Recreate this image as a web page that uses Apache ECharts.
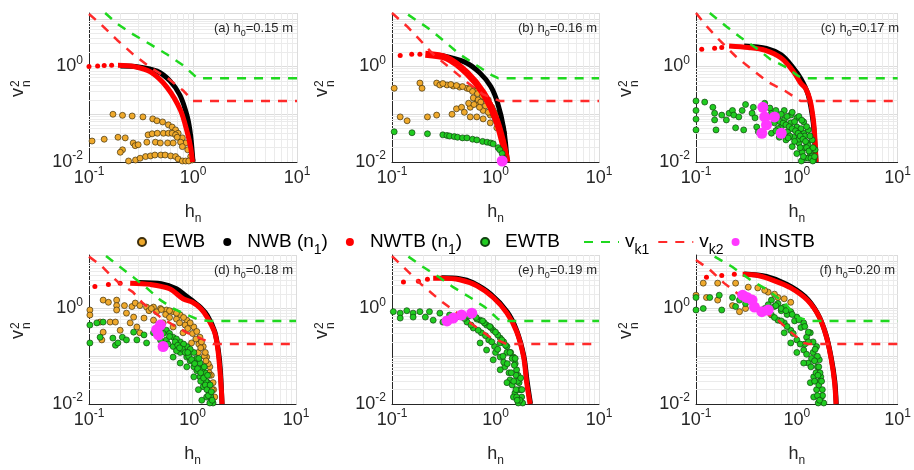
<!DOCTYPE html>
<html>
<head>
<meta charset="utf-8">
<script src="https://cdn.jsdelivr.net/npm/echarts@6/dist/echarts.min.js"></script>
<style>
  html, body { margin: 0; padding: 0; background: #fff; }
  #chart { width: 914px; height: 470px; }
</style>
</head>
<body>
<div id="chart"></div>
<script>
// panel captions
const panelTags = ['(a)', '(b)', '(c)', '(d)', '(e)', '(f)'];
const h0Values = ['0.15', '0.16', '0.17', '0.18', '0.19', '0.20'];

// ticks with labels, minor grid values
const xLabelTicks = [0.1, 1, 10];
const yLabelTicks = [0.01, 1];
const xMinorGrid = [0.2, 0.3, 0.4, 0.5, 0.6, 0.7, 0.8, 0.9, 2, 3, 4, 5, 6, 7, 8, 9];
const yMinorGrid = [0.02, 0.03, 0.04, 0.05, 0.06, 0.07, 0.08, 0.09, 0.2, 0.3, 0.4, 0.5, 0.6, 0.7, 0.8, 0.9, 2, 3, 4, 5, 6, 7, 8, 9];

// (a) h0 = 0.15 m
const ewbA = [[0.17,0.1],[0.21,0.095],[0.26,0.092],[0.33,0.088],[0.41,0.08],[0.45,0.073],[0.51,0.069],[0.58,0.06],[0.63,0.054],[0.68,0.047],[0.72,0.04],[0.79,0.032],[0.85,0.025],[0.89,0.018],[0.95,0.013],[0.98,0.011],
  [0.107,0.0275],[0.14,0.03],[0.19,0.033],[0.223,0.032],[0.266,0.025],[0.278,0.022],[0.297,0.023],[0.37,0.037],[0.405,0.039],[0.454,0.04],[0.52,0.04],[0.58,0.04],[0.63,0.04],[0.68,0.037],[0.705,0.033],[0.76,0.026],[0.79,0.021],[0.435,0.026],[0.36,0.026],[0.485,0.025],[0.57,0.025],[0.645,0.025],[0.21,0.018],[0.2,0.016],
  [0.24,0.0105],[0.28,0.011],[0.31,0.012],[0.35,0.013],[0.39,0.0134],[0.43,0.014],[0.49,0.014],[0.54,0.014],[0.61,0.0134],[0.68,0.013],[0.72,0.0116],[0.79,0.0105],[0.85,0.0105],[0.91,0.0105]];
const nwbA = [[0.2,1.02],[0.3,0.98],[0.45,0.8],[0.6,0.5],[0.75,0.25],[0.88,0.09],[0.95,0.035],[1.0,0.01]];
const nwtbDotsA = [[0.1,1.0],[0.121,1.03],[0.14,1.05],[0.165,1.06]];
const nwtbA = [[0.19,1.06],[0.27,1.0],[0.39,0.77],[0.56,0.37],[0.76,0.12],[0.885,0.04],[0.95,0.02],[0.99,0.01]];
const vk1A = [[0.143,13.2],[0.186,7.9],[0.266,4.7],[0.39,2.9],[0.57,1.76],[0.81,1.05],[1.1,0.57],[10,0.57]];
const vk2A = [[0.1,12.6],[0.128,7.9],[0.186,3.6],[0.266,1.8],[0.39,0.95],[0.57,0.57],[0.81,0.31],[1.0,0.19],[10,0.19]];

// (b) h0 = 0.16 m
const ewbB = [[0.105,0.35],[0.186,0.45],[0.195,0.35],[0.27,0.45],[0.29,0.41],[0.34,0.41],[0.39,0.39],[0.45,0.37],[0.53,0.35],[0.61,0.32],[0.71,0.28],[0.79,0.23],[0.85,0.2],[0.92,0.14],[0.99,0.105],[1.06,0.076],[1.16,0.054],[1.2,0.04],
  [0.31,0.44],[0.37,0.42],[0.42,0.4],[0.48,0.38],[0.56,0.34],[0.65,0.3],
  [0.61,0.22],[0.66,0.17],[0.57,0.14],[0.76,0.12],[0.89,0.096],[1.03,0.069],[0.68,0.2],[0.72,0.18],[0.8,0.15],[0.95,0.1],[1.1,0.06],
  [0.6,0.3],[0.67,0.27],[0.75,0.24],[0.82,0.2],[0.88,0.16],[0.95,0.12],[1.02,0.09],[1.1,0.065],[1.14,0.045],[1.18,0.03],[0.55,0.17],[0.62,0.16],[0.7,0.14],[0.85,0.11],[1.0,0.08],[1.12,0.05],
  [0.12,0.088],[0.14,0.073],[0.22,0.088],[0.27,0.096],[0.38,0.1],[0.42,0.13],[0.47,0.14],[0.5,0.11],[0.57,0.088],[0.66,0.088],[0.76,0.08],[0.89,0.066],[1.03,0.052],[1.16,0.037],[1.2,0.026]];
const nwbB = [[0.3,1.7],[0.5,1.25],[0.7,0.75],[0.9,0.38],[1.05,0.17],[1.2,0.05],[1.3,0.01]];
const nwtbDotsB = [[0.12,1.7],[0.155,1.8],[0.186,1.8]];
const nwtbB = [[0.21,1.8],[0.34,1.5],[0.53,0.73],[0.76,0.28],[1.02,0.076],[1.18,0.025],[1.29,0.01]];
const ewtbB = [[0.105,0.043],[0.156,0.041],[0.22,0.039],[0.31,0.037],[0.34,0.036],[0.36,0.035],[0.4,0.034],[0.43,0.033],[0.48,0.032],[0.53,0.032],[0.6,0.03],[0.66,0.029],[0.75,0.027],[0.83,0.026],[0.9,0.025],[0.95,0.024],[1.06,0.02],[1.1,0.018],[1.16,0.015],[1.2,0.012]];
const vk1B = [[0.143,12.2],[0.22,6.5],[0.31,3.6],[0.45,1.8],[0.66,1.05],[0.92,0.66],[1.06,0.57],[10,0.57]];
const vk2B = [[0.1,13.2],[0.14,6.9],[0.186,3.6],[0.25,1.8],[0.36,0.95],[0.53,0.47],[0.76,0.26],[1.1,0.19],[10,0.19]];
const instbB = [[1.16,0.0105]];

// (c) h0 = 0.17 m
const nwbC = [[0.3,2.7],[0.5,2.4],[0.7,1.75],[0.9,1.0],[1.1,0.55],[1.3,0.25],[1.45,0.07],[1.52,0.02],[1.55,0.01]];
const nwtbDotsC = [[0.114,2.3],[0.153,2.4],[0.18,2.5]];
const nwtbC = [[0.213,2.7],[0.33,2.5],[0.48,2.2],[0.7,1.5],[0.93,0.77],[1.09,0.45],[1.22,0.35],[1.36,0.19],[1.47,0.066],[1.52,0.025],[1.55,0.01]];
const ewtbC = [[0.1,0.19],[0.1,0.12],[0.1,0.079],[0.1,0.047],[0.122,0.18],[0.147,0.14],[0.153,0.105],[0.153,0.076],[0.158,0.047],[0.18,0.096],[0.2,0.076],[0.213,0.105],[0.23,0.12],[0.237,0.096],[0.247,0.052],[0.266,0.088],[0.287,0.12],[0.31,0.16],[0.297,0.047],[0.36,0.105],[0.37,0.14],[0.385,0.084],[0.4,0.054],[0.415,0.043],
  [0.56,0.105],[0.65,0.088],[0.75,0.076],[0.87,0.066],[1.0,0.054],[1.17,0.04],[1.27,0.025],[1.36,0.015],[1.47,0.011],
  [0.6,0.066],[0.7,0.054],[0.81,0.043],[0.93,0.033],[1.05,0.025],[1.13,0.016],[1.22,0.012],
  [0.56,0.04],[0.67,0.033],[0.78,0.029],[0.9,0.021],[1.0,0.015],[1.11,0.0105],
  [0.75,0.12],[0.87,0.096],[1.0,0.084],[1.17,0.069],[1.3,0.047],[1.42,0.029],[1.52,0.018],
  [0.48,0.17],[0.54,0.135],[0.5,0.084],
  [0.62,0.12],[0.7,0.1],[0.8,0.09],[0.95,0.07],[1.1,0.05],[1.2,0.035],[1.3,0.022],[1.4,0.013],[0.65,0.05],[0.85,0.035],[1.05,0.03],[1.2,0.02],[1.3,0.012],
  [0.58,0.09],[0.63,0.08],[0.68,0.07],[0.73,0.065],[0.78,0.06],[0.84,0.055],[0.9,0.05],[0.97,0.045],[1.03,0.04],[1.08,0.035],[1.15,0.03],[1.22,0.027],[1.25,0.02],[1.32,0.017],[1.38,0.012],[1.44,0.0105],
  [0.62,0.045],[0.72,0.04],[0.82,0.032],[0.95,0.027],[1.08,0.02],[1.16,0.013],
  [0.9,0.11],[1.05,0.09],[1.12,0.075],[1.25,0.055],[1.35,0.035],[1.45,0.02],[1.5,0.013]];
const vk1C = [[0.137,13.2],[0.2,6.9],[0.28,4.0],[0.41,2.3],[0.55,1.4],[0.76,1.0],[1.0,0.66],[1.13,0.57],[10,0.57]];
const vk2C = [[0.1,13.2],[0.128,6.9],[0.17,3.6],[0.25,1.6],[0.36,0.86],[0.52,0.47],[0.76,0.31],[1.09,0.19],[10,0.19]];
const instbC = [[0.46,0.14],[0.48,0.088],[0.5,0.06],[0.45,0.04],[0.6,0.088],[0.7,0.04]];

// (d) h0 = 0.18 m
const ewbD = [[0.102,0.93],[0.102,0.73],[0.137,1.5],[0.154,1.35],[0.185,1.5],[0.185,1.15],[0.185,0.93],[0.128,0.52],[0.137,0.32],[0.133,0.22],[0.16,0.52],[0.18,0.52],[0.22,1.15],[0.23,0.8],[0.26,1.1],[0.27,0.66],[0.28,1.3],[0.31,1.15],[0.36,1.07],[0.42,1.07],[0.49,1.0],[0.56,0.93],[0.65,0.86],[0.76,0.73],[0.88,0.57],[1.03,0.41],[1.18,0.25],[1.27,0.16],[1.37,0.096],[1.47,0.06],[1.58,0.028],[1.64,0.014],
  [0.34,0.63],[0.42,0.57],[0.52,0.5],[0.65,0.41],[0.81,0.31],[0.98,0.19],[1.14,0.12],[1.27,0.06],[1.4,0.028],[1.5,0.014],
  [0.25,0.5],[0.29,0.41],[0.2,0.35],[0.31,0.31],
  [0.38,0.9],[0.45,0.85],[0.55,0.75],[0.7,0.6],[0.85,0.45],[1.0,0.3],[1.15,0.18],[1.3,0.1],[1.45,0.045],
  [0.4,1.0],[0.5,0.95],[0.6,0.9],[0.7,0.8],[0.82,0.65],[0.95,0.5],[1.1,0.33],[1.22,0.2],[1.33,0.12],[1.42,0.07],[1.52,0.04],[1.6,0.02],[0.6,0.65],[0.75,0.5],[0.9,0.38],[1.08,0.23],[1.2,0.15],[1.35,0.08],[1.45,0.04],[1.55,0.02]];
const nwbD = [[0.3,3.5],[0.5,3.3],[0.7,2.6],[0.85,1.9],[1.0,1.45],[1.2,1.05],[1.4,0.7],[1.64,0.33],[1.78,0.13],[1.86,0.05],[1.93,0.01]];
const nwtbDotsD = [[0.114,2.9],[0.154,3.2],[0.2,3.4]];
const nwtbD = [[0.25,3.4],[0.39,3.2],[0.6,2.6],[0.81,1.6],[1.0,1.35],[1.2,1.0],[1.38,0.66],[1.64,0.31],[1.76,0.135],[1.84,0.052],[1.9,0.02],[1.93,0.01]];
const ewtbD = [[0.102,0.45],[0.119,0.5],[0.137,0.52],[0.102,0.19],[0.128,0.25],[0.17,0.24],[0.18,0.17],[0.19,0.19],[0.21,0.25],[0.23,0.22],[0.27,0.32],[0.29,0.22],[0.34,0.28],[0.36,0.19],[0.42,0.31],[0.49,0.22],
  [0.56,0.35],[0.65,0.25],[0.76,0.2],[0.88,0.16],[1.03,0.12],[1.18,0.072],[1.32,0.045],[1.4,0.028],[1.5,0.014],[1.58,0.0105],
  [0.56,0.22],[0.65,0.16],[0.76,0.12],[0.88,0.096],[1.03,0.06],[1.18,0.037],[1.27,0.023],[1.37,0.014],[1.47,0.0105],
  [0.88,0.06],[1.03,0.037],[1.14,0.02],[1.23,0.012],[0.65,0.096],[0.76,0.072],
  [0.6,0.3],[0.7,0.23],[0.82,0.18],[0.95,0.14],[1.1,0.09],[1.25,0.055],[1.35,0.03],[1.45,0.018],[0.7,0.13],[0.95,0.08],[1.1,0.05],[1.2,0.03],
  [0.52,0.3],[0.6,0.26],[0.68,0.2],[0.72,0.17],[0.8,0.14],[0.85,0.12],[0.92,0.1],[0.98,0.085],[1.05,0.07],[1.12,0.055],[1.2,0.045],[1.28,0.035],[1.33,0.025],[1.38,0.02],[1.42,0.015],[1.55,0.012],[0.58,0.18],[0.75,0.15],[0.9,0.12],[1.15,0.09],[1.3,0.06],[1.4,0.04],[1.48,0.025],[1.52,0.018]];
const vk1D = [[0.146,12.6],[0.2,7.4],[0.266,4.6],[0.36,2.7],[0.49,1.5],[0.65,1.0],[0.89,0.73],[1.18,0.57],[1.47,0.55],[10,0.55]];
const vk2D = [[0.1,12.2],[0.128,8.3],[0.16,5.1],[0.19,3.6],[0.266,2.2],[0.33,1.3],[0.49,0.66],[0.65,0.45],[0.89,0.31],[1.18,0.24],[1.58,0.18],[10,0.18]];
const instbD = [[0.49,0.45],[0.45,0.36],[0.47,0.28],[0.52,0.16]];

// (e) h0 = 0.19 m
const nwbE = [[0.3,4.4],[0.45,4.2],[0.6,3.5],[0.9,2.0],[1.3,0.85],[1.6,0.35],[1.88,0.1],[2.02,0.03],[2.18,0.01]];
const nwtbDotsE = [[0.129,3.6],[0.18,3.7],[0.22,4.1]];
const nwtbE = [[0.25,4.3],[0.31,4.3],[0.45,4.0],[0.66,3.0],[0.95,1.7],[1.29,0.8],[1.6,0.33],[1.87,0.096],[2.0,0.028],[2.16,0.01]];
const ewtbE = [[0.103,0.86],[0.12,0.8],[0.139,0.9],[0.16,0.8],[0.186,0.86],[0.23,0.86],[0.29,0.8],[0.12,0.63],[0.16,0.66],[0.21,0.66],[0.25,0.57],[0.31,0.52],[0.36,0.73],[0.42,0.66],
  [0.61,0.73],[0.71,0.57],[0.82,0.45],[0.95,0.35],[1.11,0.24],[1.29,0.16],[1.49,0.096],[1.6,0.052],[1.69,0.028],[1.79,0.014],[1.83,0.0105],
  [0.53,0.52],[0.61,0.39],[0.73,0.31],[0.86,0.22],[0.98,0.16],[1.11,0.096],[1.23,0.06],[1.38,0.032],[1.54,0.017],[1.66,0.0105],
  [0.71,0.19],[0.82,0.135],[0.95,0.084],[1.11,0.052],[1.29,0.028],[1.49,0.014],[1.11,0.19],[1.29,0.12],
  [0.5,0.62],[0.66,0.6],[0.78,0.5],[0.9,0.4],[1.05,0.28],[1.2,0.2],[1.4,0.12],[1.55,0.07],[1.65,0.04],[1.75,0.02],[1.0,0.12],[1.2,0.075],[1.35,0.045],[1.45,0.025],[1.6,0.014],
  [0.55,0.7],[0.65,0.65],[0.75,0.55],[0.88,0.42],[1.0,0.32],[1.15,0.22],[1.25,0.17],[1.38,0.12],[1.45,0.09],[1.52,0.065],[1.58,0.04],[1.63,0.03],[1.7,0.02],[1.72,0.012],[0.58,0.45],[0.68,0.35],[0.8,0.27],[0.92,0.2],[1.05,0.14],[1.18,0.1],[1.3,0.07],[1.42,0.045],[1.5,0.03],[1.58,0.02],[1.62,0.012],[1.75,0.035],[1.8,0.02],[1.55,0.09]];
const vk1E = [[0.144,12.2],[0.2,7.4],[0.29,4.4],[0.39,2.8],[0.57,1.7],[0.79,1.07],[1.06,0.6],[1.2,0.55],[10,0.55]];
const vk2E = [[0.1,12.5],[0.15,5.4],[0.195,3.1],[0.29,1.5],[0.42,0.82],[0.61,0.45],[0.89,0.25],[1.29,0.18],[10,0.18]];
const instbE = [[0.34,0.55],[0.39,0.63],[0.47,0.73],[0.59,0.8]];

// (f) h0 = 0.20 m
const ewbF = [[0.118,3.4],[0.164,3.4],[0.247,3.4],[0.1,1.9],[0.127,1.7],[0.164,1.5],[0.23,1.15],[0.27,0.86],[0.31,1.0],[0.33,2.8],[0.41,2.7],[0.52,2.2],[0.65,1.7],[0.75,1.6],[0.87,1.35],[0.48,2.4],[0.6,2.0]];
const nwbF = [[0.3,5.3],[0.5,4.7],[0.8,3.2],[1.2,1.8],[1.6,0.8],[1.95,0.28],[2.2,0.09],[2.38,0.03],[2.46,0.01]];
const nwtbDotsF = [[0.127,4.5],[0.18,4.9],[0.24,5.2]];
const nwtbF = [[0.29,5.2],[0.41,4.9],[0.6,3.8],[0.87,2.7],[1.27,1.5],[1.67,0.66],[1.97,0.25],[2.2,0.084],[2.37,0.028],[2.45,0.01]];
const ewtbF = [[0.1,1.7],[0.1,0.93],[0.118,1.0],[0.137,1.7],[0.17,1.9],[0.18,0.93],[0.23,1.7],[0.27,1.5],[0.31,1.27],[0.247,1.1],
  [0.56,1.5],[0.65,1.27],[0.75,1.07],[0.87,0.86],[1.0,0.66],[1.17,0.5],[1.36,0.31],[1.57,0.16],[1.67,0.084],[1.73,0.037],[1.79,0.02],[1.85,0.0105],
  [0.48,1.0],[0.56,0.73],[0.65,0.57],[0.75,0.5],[0.87,0.35],[1.0,0.22],[1.17,0.135],[1.3,0.072],[1.47,0.037],[1.57,0.02],[1.63,0.0105],
  [0.75,0.31],[0.87,0.19],[1.0,0.12],[1.17,0.072],[1.36,0.028],[1.47,0.014],
  [0.6,1.1],[0.7,0.9],[0.8,0.75],[0.95,0.55],[1.1,0.4],[1.25,0.25],[1.45,0.12],[1.6,0.06],[1.7,0.03],[1.2,0.18],[1.4,0.09],[1.55,0.045],[1.65,0.025],[1.75,0.014],
  [0.52,1.2],[0.62,1.15],[0.7,1.0],[0.78,0.9],[0.9,0.75],[1.05,0.58],[1.2,0.42],[1.3,0.32],[1.45,0.2],[1.52,0.14],[1.6,0.1],[1.65,0.06],[1.7,0.045],[1.76,0.03],[1.8,0.015],[0.6,0.65],[0.7,0.55],[0.8,0.42],[0.92,0.3],[1.08,0.18],[1.25,0.11],[1.38,0.06],[1.5,0.03],[1.6,0.015],[1.68,0.012],[1.3,0.2],[1.5,0.08],[1.62,0.04]];
const vk1F = [[0.153,12.2],[0.23,7.4],[0.35,3.9],[0.52,2.4],[0.76,1.3],[1.0,0.66],[1.35,0.55],[10,0.55]];
const vk2F = [[0.1,10.4],[0.137,6.5],[0.19,3.4],[0.28,1.8],[0.44,0.93],[0.65,0.57],[0.87,0.32],[1.18,0.19],[1.3,0.18],[10,0.18]];
const instbF = [[0.29,1.9],[0.32,1.7],[0.36,1.5],[0.38,1.07],[0.45,0.86],[0.52,0.93]];

const panels = [
  { ewb: ewbA, nwb: nwbA, nwtbDots: nwtbDotsA, nwtb: nwtbA, ewtb: [], vk1: vk1A, vk2: vk2A, instb: [], w: 5 },
  { ewb: ewbB, nwb: nwbB, nwtbDots: nwtbDotsB, nwtb: nwtbB, ewtb: ewtbB, vk1: vk1B, vk2: vk2B, instb: instbB, w: 7 },
  { ewb: [], nwb: nwbC, nwtbDots: nwtbDotsC, nwtb: nwtbC, ewtb: ewtbC, vk1: vk1C, vk2: vk2C, instb: instbC, w: 5 },
  { ewb: ewbD, nwb: nwbD, nwtbDots: nwtbDotsD, nwtb: nwtbD, ewtb: ewtbD, vk1: vk1D, vk2: vk2D, instb: instbD, w: 5 },
  { ewb: [], nwb: nwbE, nwtbDots: nwtbDotsE, nwtb: nwtbE, ewtb: ewtbE, vk1: vk1E, vk2: vk2E, instb: instbE, w: 5 },
  { ewb: ewbF, nwb: nwbF, nwtbDots: nwtbDotsF, nwtb: nwtbF, ewtb: ewtbF, vk1: vk1F, vk2: vk2F, instb: instbF, w: 5 },
];

const FONT = '"Liberation Sans", Arial, sans-serif';
const TXT = '#262626';

const gridBoxes = [
  { left: 89, top: 13, width: 208, height: 149 },
  { left: 392, top: 13, width: 207, height: 149 },
  { left: 696, top: 13, width: 206, height: 149 },
  { left: 89, top: 255, width: 207, height: 149 },
  { left: 392, top: 255, width: 207, height: 149 },
  { left: 696, top: 255, width: 206, height: 149 },
];
const titleRight = [621, 317, 15, 621, 317, 19];
const yNameAnchor = [[27, 97], [331, 97], [635, 97], [27, 339], [331, 339], [635, 339]];

const powRich = {
  b: { fontSize: 18, lineHeight: 24, fontFamily: FONT, color: TXT },
  s: { fontSize: 12, lineHeight: 12, verticalAlign: 'top', fontFamily: FONT, color: TXT },
};
const isTick = (v, list) => list.some(t => Math.abs(Math.log10(v / t)) < 1e-6);
const powLabel = v => '{b|10}{s|' + Math.round(Math.log10(v)) + '}';

const legendLabels = {
  'EWB': 'EWB',
  'NWB (n1)': 'NWB (n{s|1})',
  'NWTB (n1)': 'NWTB (n{s|1})',
  'EWTB': 'EWTB',
  'vk1': 'v{s|k1}',
  'vk2': 'v{s|k2}',
  'INSTB': 'INSTB',
};
const legendText = {
  fontSize: 19, fontFamily: FONT, color: '#000', lineHeight: 30,
  rich: { s: { fontSize: 14, lineHeight: 14, verticalAlign: 'bottom', fontFamily: FONT, color: '#000' } },
};

const COLORS = {
  ewb: '#efa92c', ewbEdge: '#3f300e',
  ewtb: '#20cc20', ewtbEdge: '#114411',
  nwb: '#000000', nwtb: '#ff0000',
  vk1: '#1fd81f', vk2: '#ff2a2a', instb: '#ff38ff',
};

const grid = [], xAxis = [], yAxis = [], series = [], title = [], graphic = [];

panels.forEach((p, i) => {
  grid.push(Object.assign({ show: false, containLabel: false }, gridBoxes[i]));

  xAxis.push({
    type: 'log', logBase: 10, gridIndex: i, min: 0.1, max: 10,
    axisLine: { show: true, onZero: false, lineStyle: { color: TXT, width: 1 } },
    axisTick: { show: false },
    axisLabel: {
      margin: 4, showMinLabel: true, showMaxLabel: true, rich: powRich,
      formatter: v => isTick(v, xLabelTicks) ? powLabel(v) : '',
    },
    splitLine: { show: true, lineStyle: { color: '#dcdcdc', width: 1 } },
    name: '{h|h}{n|n}', nameLocation: 'middle', nameGap: 37,
    nameTextStyle: {
      rich: {
        h: { fontSize: 18, lineHeight: 26, fontFamily: FONT, color: TXT },
        n: { fontSize: 12, lineHeight: 12, verticalAlign: 'bottom', fontFamily: FONT, color: TXT },
      },
    },
  });

  yAxis.push({
    type: 'log', logBase: 10, gridIndex: i, min: 0.01, max: 13.2,
    axisLine: { show: true, onZero: false, lineStyle: { color: TXT, width: 1 } },
    axisTick: { show: false },
    axisLabel: {
      margin: 6, showMinLabel: true, showMaxLabel: false, rich: powRich,
      formatter: v => isTick(v, yLabelTicks) ? powLabel(v) : '',
    },
    splitLine: { show: true, lineStyle: { color: '#dcdcdc', width: 1 } },
  });

  // minor log grid, kept under the data
  series.push({
    type: 'line', xAxisIndex: i, yAxisIndex: i, data: [[1, 1]], symbol: 'none',
    lineStyle: { opacity: 0 }, silent: true, z: 1, animation: false,
    markLine: {
      z: 1, silent: true, symbol: 'none', animation: false, label: { show: false },
      lineStyle: { color: '#ebebeb', width: 1, type: 'solid' },
      emphasis: { disabled: true },
      data: xMinorGrid.map(v => ({ xAxis: v })).concat(yMinorGrid.map(v => ({ yAxis: v }))),
    },
  });

  const base = { xAxisIndex: i, yAxisIndex: i, animation: false };
  if (p.ewb.length) series.push(Object.assign({
    name: 'EWB', type: 'scatter', data: p.ewb, symbolSize: 6, z: 3,
    itemStyle: { color: COLORS.ewb, borderColor: COLORS.ewbEdge, borderWidth: 0.7, opacity: 1 },
  }, base));
  series.push(Object.assign({
    name: 'NWB (n1)', type: 'line', data: p.nwb, smooth: 0.3, symbol: 'none', z: 4,
    itemStyle: { color: COLORS.nwb }, lineStyle: { color: COLORS.nwb, width: 5 },
  }, base));
  series.push(Object.assign({
    name: 'NWTB (n1)', type: 'scatter', data: p.nwtbDots, symbolSize: 5, z: 5,
    itemStyle: { color: COLORS.nwtb, opacity: 1 },
  }, base));
  series.push(Object.assign({
    name: 'NWTB (n1)', type: 'line', data: p.nwtb, smooth: 0.3, symbol: 'none', z: 5,
    itemStyle: { color: COLORS.nwtb }, lineStyle: { color: COLORS.nwtb, width: p.w },
  }, base));
  if (p.ewtb.length) series.push(Object.assign({
    name: 'EWTB', type: 'scatter', data: p.ewtb, symbolSize: 6, z: 6,
    itemStyle: { color: COLORS.ewtb, borderColor: COLORS.ewtbEdge, borderWidth: 0.7, opacity: 1 },
  }, base));
  series.push(Object.assign({
    name: 'vk1', type: 'line', data: p.vk1, symbol: 'none', z: 7,
    itemStyle: { color: COLORS.vk1 }, lineStyle: { color: COLORS.vk1, width: 2.5, type: [9, 8] },
  }, base));
  series.push(Object.assign({
    name: 'vk2', type: 'line', data: p.vk2, symbol: 'none', z: 7,
    itemStyle: { color: COLORS.vk2 }, lineStyle: { color: COLORS.vk2, width: 2.5, type: [9, 8] },
  }, base));
  if (p.instb.length) series.push(Object.assign({
    name: 'INSTB', type: 'scatter', data: p.instb, symbolSize: 11, z: 8,
    itemStyle: { color: COLORS.instb, opacity: 1 },
  }, base));

  title.push({
    text: panelTags[i] + ' h{s|0}=' + h0Values[i] + ' m',
    right: titleRight[i], top: gridBoxes[i].top + 5, padding: 0,
    textStyle: {
      fontSize: 13, fontWeight: 'normal', fontFamily: FONT, color: TXT, lineHeight: 20,
      rich: { s: { fontSize: 9, lineHeight: 9, verticalAlign: 'bottom', fontFamily: FONT, color: TXT } },
    },
  });

  const [ax, ay] = yNameAnchor[i];
  graphic.push({
    type: 'group', x: ax, y: ay, rotation: Math.PI / 2, silent: true,
    children: [
      { type: 'text', x: 0, y: 0, style: { text: 'v', font: '18px ' + FONT, fill: TXT, verticalAlign: 'bottom' } },
      { type: 'text', x: 10, y: -5, style: { text: '2', font: '12px ' + FONT, fill: TXT, verticalAlign: 'bottom' } },
      { type: 'text', x: 10, y: 6, style: { text: 'n', font: '12px ' + FONT, fill: TXT, verticalAlign: 'bottom' } },
    ],
  });
});

const chart = echarts.init(document.getElementById('chart'));
chart.setOption({
  backgroundColor: '#fff',
  animation: false,
  title,
  grid,
  xAxis,
  yAxis,
  graphic,
  legend: [
    {
      data: ['EWB', { name: 'NWB (n1)', icon: 'circle' }, { name: 'NWTB (n1)', icon: 'circle' }, 'EWTB'],
      left: 132, top: 222, itemWidth: 8, itemHeight: 8, itemGap: 18, selectedMode: false,
      formatter: n => legendLabels[n],
      textStyle: Object.assign({ padding: [0, 0, 0, 11] }, legendText),
    },
    {
      data: [
        { name: 'vk1', itemStyle: { opacity: 0 } },
        { name: 'vk2', itemStyle: { opacity: 0 } },
        { name: 'INSTB', icon: 'circle' },
      ],
      left: 578, top: 222, itemWidth: 35, itemHeight: 8, itemGap: 8, selectedMode: false,
      formatter: n => legendLabels[n],
      textStyle: Object.assign({ padding: [0, 0, 0, 1] }, legendText),
    },
  ],
  series,
});
</script>
</body>
</html>
